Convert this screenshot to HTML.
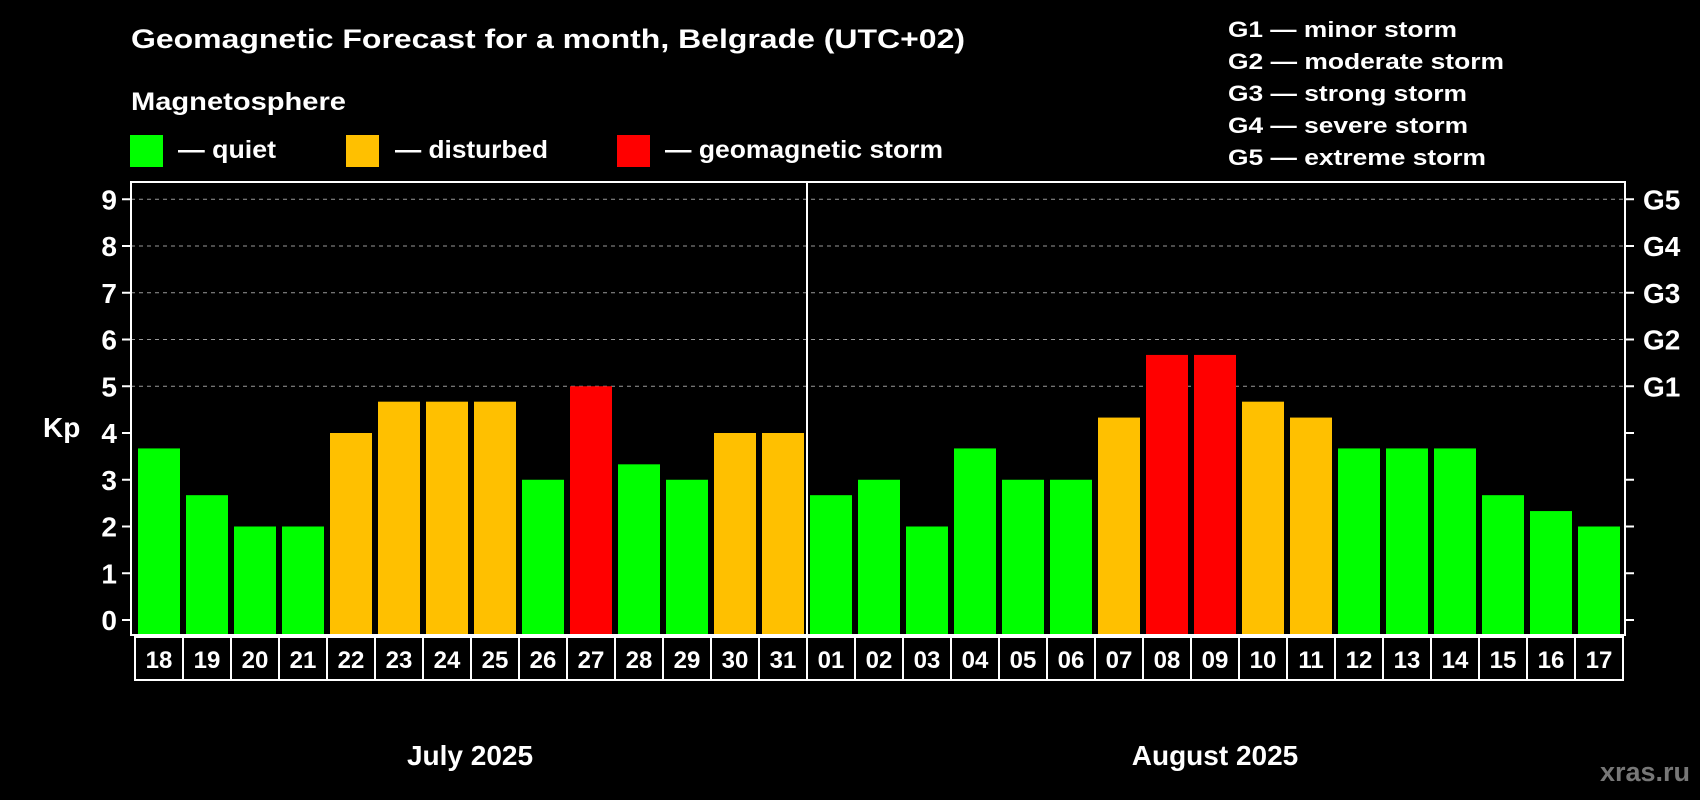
<!DOCTYPE html>
<html><head><meta charset="utf-8"><style>
html,body{margin:0;padding:0;background:#000;width:1700px;height:800px;overflow:hidden}
svg text{font-family:"Liberation Sans",sans-serif;font-weight:bold;fill:#fff}
</style></head><body>
<svg id="chart" width="1700" height="800" xmlns="http://www.w3.org/2000/svg">
<rect width="1700" height="800" fill="#000"/>
<text x="131" y="48" font-size="27" textLength="834" lengthAdjust="spacingAndGlyphs">Geomagnetic Forecast for a month, Belgrade (UTC+02)</text>
<text x="131" y="110" font-size="25" textLength="215" lengthAdjust="spacingAndGlyphs">Magnetosphere</text>
<g><rect x="130" y="135" width="33" height="32" fill="#00ff00"/><text x="178" y="158" font-size="25" textLength="98" lengthAdjust="spacingAndGlyphs">— quiet</text></g>
<g><rect x="346" y="135" width="33" height="32" fill="#ffc000"/><text x="395" y="158" font-size="25" textLength="153" lengthAdjust="spacingAndGlyphs">— disturbed</text></g>
<g><rect x="617" y="135" width="33" height="32" fill="#ff0000"/><text x="665" y="158" font-size="25" textLength="278" lengthAdjust="spacingAndGlyphs">— geomagnetic storm</text></g>
<g font-size="22">
<text x="1228" y="37" textLength="229" lengthAdjust="spacingAndGlyphs">G1 — minor storm</text>
<text x="1228" y="69" textLength="276" lengthAdjust="spacingAndGlyphs">G2 — moderate storm</text>
<text x="1228" y="101" textLength="239" lengthAdjust="spacingAndGlyphs">G3 — strong storm</text>
<text x="1228" y="133" textLength="240" lengthAdjust="spacingAndGlyphs">G4 — severe storm</text>
<text x="1228" y="165" textLength="258" lengthAdjust="spacingAndGlyphs">G5 — extreme storm</text>
</g>
<text x="43" y="437" font-size="28">Kp</text>
<text x="470" y="765" font-size="28" text-anchor="middle">July 2025</text>
<text x="1215" y="765" font-size="28" text-anchor="middle">August 2025</text>
<text x="1690" y="781" font-size="27" text-anchor="end" style="fill:#777">xras.ru</text>
<g id="plot"></g>
</svg>
<script>
const days = ["18","19","20","21","22","23","24","25","26","27","28","29","30","31","01","02","03","04","05","06","07","08","09","10","11","12","13","14","15","16","17"];
const kpValues = [3.67,2.67,2,2,4,4.67,4.67,4.67,3,5,3.33,3,4,4,2.67,3,2,3.67,3,3,4.33,5.67,5.67,4.67,4.33,3.67,3.67,3.67,2.67,2.33,2];
const levels = ["q","q","q","q","d","d","d","d","q","s","q","q","d","d","q","q","q","q","q","q","d","s","s","d","d","q","q","q","q","q","q"];
const yTicks = [0,1,2,3,4,5,6,7,8,9];
const gLabels = ["G1","G2","G3","G4","G5"];
const gLevels = [5,6,7,8,9];
const monthSplitIndex = 14;

const NS="http://www.w3.org/2000/svg";
const plot=document.getElementById('plot');
const L=131,R=1625,T=182,B=635;
const y0=620,unit=46.75;
const yScale=v=>y0-v*unit;
const x0=138,step=48,bw=42;
const xScale=i=>x0+i*step;
const colors={q:"#00ff00",d:"#ffc000",s:"#ff0000"};
function mk(tag,attrs){const e=document.createElementNS(NS,tag);for(const k in attrs)e.setAttribute(k,attrs[k]);plot.appendChild(e);return e;}

// gridlines
gLevels.forEach(v=>{
  const g=mk('line',{x1:L,x2:R,y1:yScale(v),y2:yScale(v),stroke:"#999","stroke-width":1,"stroke-dasharray":"4,4"});
  
  
});
// bars
kpValues.forEach((v,i)=>{
  const r=mk('rect',{x:xScale(i),y:yScale(v),width:bw,height:B-yScale(v),fill:colors[levels[i]]});
  
  
});
// divider
const dv=mk('line',{x1:xScale(monthSplitIndex)-3,x2:xScale(monthSplitIndex)-3,y1:T,y2:B,stroke:"#fff","stroke-width":2});


// frame
const fr=mk('rect',{x:L,y:T,width:R-L,height:B-T,fill:"none",stroke:"#fff","stroke-width":2});


// y ticks
yTicks.forEach(v=>{
  const y=yScale(v);
  const t1=mk('line',{x1:L-9,x2:L,y1:y,y2:y,stroke:"#fff","stroke-width":2});
  
  
  const t2=mk('line',{x1:R,x2:R+9,y1:y,y2:y,stroke:"#fff","stroke-width":2});
  
  
  const tx=mk('text',{x:117,y:y+10,"font-size":28,"text-anchor":"end"});
  tx.textContent=v;
  
  
});
gLabels.forEach((g,i)=>{
  const tx=mk('text',{x:1643,y:yScale(gLevels[i])+10,"font-size":28});
  tx.textContent=g;
  
  
});
// day label cells
days.forEach((d,i)=>{
  const cx=135+i*step;
  const c=mk('rect',{x:cx,y:637,width:step,height:43,fill:"none",stroke:"#fff","stroke-width":2});
  
  
  const tx=mk('text',{x:cx+step/2,y:668,"font-size":24,"text-anchor":"middle"});
  tx.textContent=d;
  
  
});
</script>
</body></html>
